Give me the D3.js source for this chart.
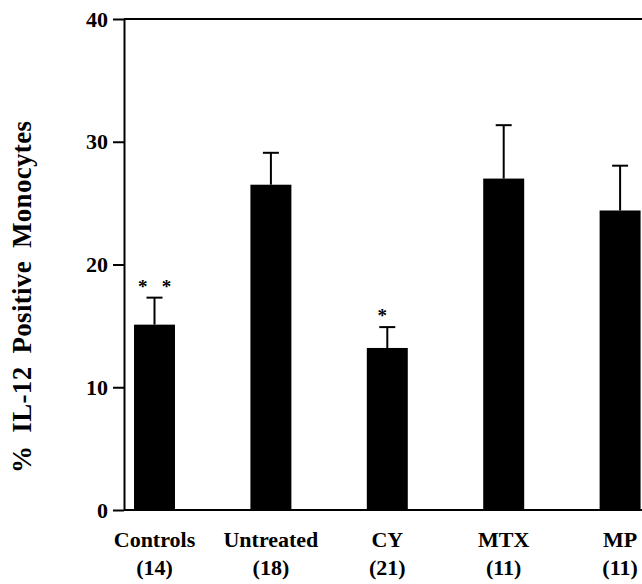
<!DOCTYPE html>
<html>
<head>
<meta charset="utf-8">
<script src="https://cdn.jsdelivr.net/npm/d3@7"></script>
<style>
  body { margin: 0; background: #fff; }
  text { font-family: "Liberation Serif", "Times New Roman", serif; font-weight: bold; }
</style>
</head>
<body>
<div id="chart"></div>
<script>
////////////////////////////////////////////////////////////////////////
// Data

let groups = ["Controls", "Untreated", "CY", "MTX", "MP"];
let groupN = ["(14)", "(18)", "(21)", "(11)", "(11)"];
let means = [15.1, 26.5, 13.2, 27.0, 24.4];
let errors = [2.2, 2.6, 1.7, 4.35, 3.65];
let stars = ["* *", "", "*", "", ""];
let yTicks = [0, 10, 20, 30, 40];

// layout
let width = 642;
let height = 584;
let axisX = 124;
let tickLen = 11;

let svg = d3.select("#chart")
  .append("svg")
  .attr("width", width)
  .attr("height", height);

// scales
let xScale = d3.scaleBand()
  .domain(groups)
  .range([96.3, 678.3])
  .paddingInner(0.648)
  .paddingOuter(0.324);

let yScale = d3.scaleLinear().domain([0, 40]).range([510, 19]);

// bars
svg.append("g")
  .selectAll("rect")
  .data(groups)
  .enter()
  .append("rect")
  .attr("x", d => xScale(d))
  .attr("y", (d, i) => yScale(means[i]))
  .attr("width", xScale.bandwidth())
  .attr("height", (d, i) => yScale(0) - yScale(means[i]))
  .attr("fill", "#000");

// error bars (upper half only)
let err = svg.append("g").attr("stroke", "#000").attr("stroke-width", 2);
groups.forEach(function(g, i) {
  let cx = xScale(g) + xScale.bandwidth() / 2;
  let top = yScale(means[i] + errors[i]);
  err.append("line")
    .attr("x1", cx).attr("x2", cx)
    .attr("y1", yScale(means[i])).attr("y2", top);
  err.append("line")
    .attr("x1", cx - 8).attr("x2", cx + 8)
    .attr("y1", top).attr("y2", top);
});

// significance stars
svg.append("g")
  .selectAll("text")
  .data(groups)
  .enter()
  .append("text")
  .attr("x", (d, i) => xScale(d) + xScale.bandwidth() / 2 - (stars[i].length == 1 ? 5 : 0))
  .attr("y", (d, i) => yScale(means[i] + errors[i]) - 5)
  .attr("text-anchor", "middle")
  .style("font-size", "19px")
  .style("white-space", "pre")
  .text((d, i) => stars[i].replace(" ", "   "));

// y axis
let yAxis = d3.axisLeft(yScale)
  .tickValues(yTicks)
  .tickSize(tickLen)
  .tickSizeOuter(0)
  .tickPadding(5)
  .tickFormat(d3.format("d"));

let yg = svg.append("g")
  .attr("transform", "translate(" + axisX + ",0)")
  .call(yAxis);
yg.selectAll("path, line").attr("stroke", "#000").attr("stroke-width", 2);
yg.selectAll("text")
  .attr("fill", "#000")
  .style("font-size", "22px");

// top and bottom frame lines running off to the right
[0, 40].forEach(function(v) {
  svg.append("line")
    .attr("x1", axisX).attr("x2", width)
    .attr("y1", yScale(v)).attr("y2", yScale(v))
    .attr("stroke", "#000")
    .attr("stroke-width", 2);
});

// category labels and group sizes
let labels = svg.append("g").attr("text-anchor", "middle").style("font-size", "22px");
labels.selectAll(".cat")
  .data(groups)
  .enter()
  .append("text")
  .attr("class", "cat")
  .attr("x", d => xScale(d) + xScale.bandwidth() / 2)
  .attr("y", 547)
  .text(d => d);
labels.selectAll(".n")
  .data(groups)
  .enter()
  .append("text")
  .attr("class", "n")
  .attr("x", d => xScale(d) + xScale.bandwidth() / 2)
  .attr("y", 575)
  .text((d, i) => groupN[i]);

// y axis title
svg.append("text")
  .attr("transform", "translate(31,297) rotate(-90)")
  .attr("text-anchor", "middle")
  .attr("textLength", 352)
  .attr("lengthAdjust", "spacing")
  .style("font-size", "27px")
  .style("word-spacing", "6px")
  .text("% IL-12 Positive Monocytes");
</script>
</body>
</html>
